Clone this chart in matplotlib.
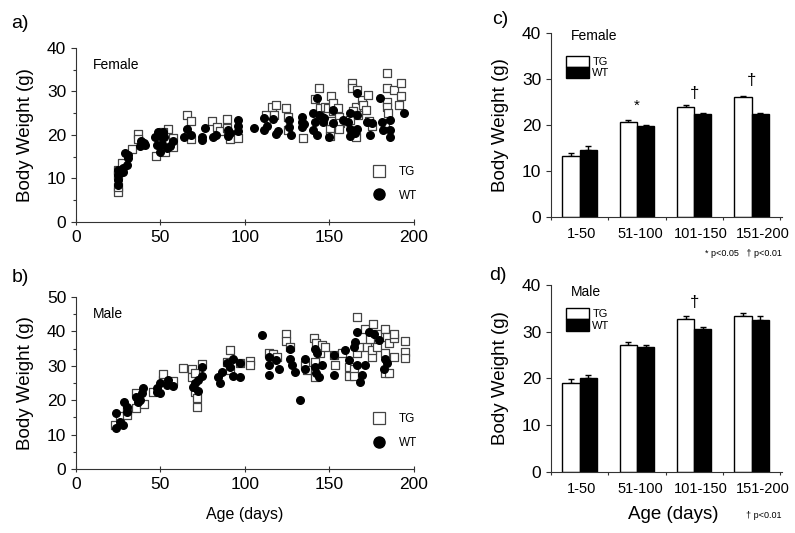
import numpy as np
import matplotlib
matplotlib.use("Agg")
import matplotlib.pyplot as plt
from matplotlib.patches import Patch
from matplotlib.lines import Line2D

plt.rcParams['font.family'] = ['Liberation Sans', 'DejaVu Sans']

### scatter data, female (age in days, weight in g)
f_tg_age = [24.7, 24.7, 24.7, 24.7, 27, 33, 36.9, 36.9, 47.3, 52.7, 54.6, 57.6, 57.6, 51.6, 65.5,
            68, 68, 80.7, 83.2, 85.2, 89.5, 89.5, 91.1, 96, 112.2, 116.2, 118.1, 117.3, 124.6, 125.2,
            125.2, 134.5, 144, 141.4, 144.4, 147.3, 149.3, 150.9, 151.9, 152.3, 155.2, 155.8, 156.2,
            155.8, 150.9, 150.3, 150.3, 163.1, 163.1, 166.1, 165.7, 169, 170, 173, 171.6, 165.7, 162.1,
            164.1, 167, 184.2, 184.2, 184.2, 184.2, 188.2, 192.1, 192.1, 191.3, 184.8, 182.8, 175,
            173.5, 150.7]
f_tg_wt = [7.0, 8.1, 10.8, 11.9, 13.5, 16.7, 20.2, 19.0, 15.2, 16.0, 21.3, 19.4, 17.2, 20.7, 24.6,
           23.2, 19.1, 23.3, 21.8, 20.9, 23.6, 21.6, 19.1, 19.4, 24.6, 26.5, 26.9, 24.6, 26.1, 24.2,
           21.1, 19.4, 30.7, 28.2, 26.1, 26.5, 26.1, 29.0, 27.4, 25.6, 26.3, 24.2, 22.7,
           21.3, 22.3, 21.3, 19.8, 32.0, 30.7, 30.3, 26.5, 28.0, 26.9, 29.3, 25.7, 19.6, 23.4,
           25.4, 24.6, 34.3, 30.7, 27.5, 26.4, 30.3, 32.0, 29.0, 26.9, 25.0, 22.7, 22.1,
           23.2, 23.3]
f_wt_age = [24.7, 24.7, 24.7, 24.7, 25.5, 28, 28, 29, 30.9, 30, 31, 37.9, 38.5, 40.2, 41, 46.7,
            48.7, 48.1, 49.5, 51.7, 51, 52, 53.6, 55.6, 57.6, 50, 65.5, 64, 68, 74.3, 74.3, 76.3,
            80.9, 82.6, 89.7, 89.9, 91, 96, 96, 96, 105.5, 111.4, 111.4, 113, 116.7, 118.1, 119.5,
            126, 126, 127.2, 133.5, 133.5, 134, 135, 142.8, 166.1, 179.9, 194.1, 140.4, 141.4,
            140.4, 142.4, 145.4, 146.3, 149.9, 152.3, 152.3, 158.2, 161.1, 162.1, 162.1, 162.1,
            166.1, 166.1, 165.1, 172, 174, 175, 180.9, 181.8, 185.8, 185.8, 185.8, 144, 147]
f_wt_wt = [8.5, 9.6, 10.8, 12.0, 11.2, 11.6, 12.4, 15.8, 14.6, 13.1, 15.5, 17.5, 18.7, 18.2, 17.8, 19.6,
           20.8, 17.7, 19.8, 20.8, 18.0, 19.5, 16.9, 17.5, 18.6, 16.0, 21.3, 19.5, 20.1, 19.6, 18.9, 21.5,
           19.6, 20.0, 21.1, 19.8, 20.5, 23.4, 22.1, 20.9, 21.5, 23.8, 21.1, 22.0, 23.6, 20.2, 21.0,
           23.4, 21.8, 20.0, 24.2, 21.8, 23.0, 22.5, 28.6, 29.6, 28.4, 25.1, 25.0, 23.0,
           21.1, 20.0, 24.2, 23.0, 19.6, 25.7, 22.7, 23.4, 23.0, 25.1, 21.3, 19.7,
           24.6, 21.3, 20.5, 23.0, 20.0, 22.7, 23.0, 21.1, 23.4, 21.1, 19.6, 24.5, 23.8]

### scatter data, male
m_tg_age = [22.9, 25.9, 29.9, 29.9, 35.8, 35.8, 40.2, 45.7, 51.6, 51.6, 57.2, 63.1, 68.4, 68.4, 70.4,
            70.4, 71.4, 71.4, 74.4, 91.2, 89.2, 91.2, 97.1, 102.7, 102.7, 114.5, 116.9, 118.9, 124.4,
            124.4, 126.8, 135.7, 136.7, 140.6, 142.2, 141.6, 141.6, 144.6, 145.6, 147.6, 152.5, 153.5,
            157.5, 161.4, 161.4, 164.4, 164.4, 166.4, 166.4, 167.4, 171.3, 172.3, 174.3, 175.3, 175.3,
            175.9, 178.3, 178.3, 183.2, 184.2, 185.2, 183.2, 183.2, 185.2, 188.1, 188.1, 188.1, 195,
            195, 195]
m_tg_wt = [12.8, 15.3, 15.7, 17.2, 17.7, 22.0, 18.8, 22.5, 25.9, 27.6, 25.6, 29.5, 29.1, 26.8, 27.8,
           22.5, 20.6, 17.9, 30.5, 34.7, 31.2, 28.8, 30.7, 31.5, 30.2, 33.8, 33.4, 32.6, 39.4,
           37.3, 35.5, 30.2, 28.8, 38.2, 36.5, 31.2, 26.8, 33.6, 36.2, 35.5, 33.1, 30.2,
           33.6, 29.7, 27.0, 29.2, 27.0, 44.2, 33.6, 35.5, 40.8, 35.5, 37.9, 32.6, 34.6,
           42.1, 35.5, 39.4, 40.6, 38.4, 36.5, 33.6, 27.8, 27.8, 32.6, 38.2, 39.4, 37.3,
           34.1, 32.4]
m_wt_age = [23.5, 23.5, 25.9, 27.9, 28.3, 29.9, 29.9, 35.8, 36.8, 38.8, 39.8, 37.8, 47.7, 47.7, 49.7,
            49.7, 53.6, 57.2, 54.6, 69.4, 70.4, 72.4, 72.4, 74.4, 74.4, 84.3, 85.3, 86.2, 89.2, 91.2,
            93.2, 93.2, 97.1, 97.1, 110, 114.5, 114.5, 114.5, 118.1, 120.1, 126.8, 126.8, 127.8,
            129.8, 132.7, 135.7, 135.7, 141.6, 142.6, 141.6, 142.2, 143.6, 145.6, 152.5, 152.5,
            159.5, 161.4, 164.4, 165.4, 166.4, 166.4, 168.3, 169.3, 171.3, 173.3, 176.3, 179.2,
            182.2, 183.2, 184.2]
m_wt_wt = [16.2, 11.9, 13.8, 12.8, 19.6, 18.1, 16.7, 21.0, 19.6, 22.0, 23.7, 20.0, 23.7, 22.5, 24.9,
           22.0, 24.4, 24.1, 25.9, 23.9, 25.1, 25.9, 22.8, 29.7, 27.0, 26.8, 24.9, 28.3, 30.7, 29.7,
           32.1, 27.0, 30.7, 26.8, 38.9, 32.6, 30.2, 27.3, 31.7, 29.2, 35.0, 32.1, 30.2,
           28.3, 20.1, 32.1, 29.2, 35.0, 33.6, 29.7, 27.8, 26.8, 30.2, 33.1, 27.3,
           34.6, 31.7, 35.5, 37.0, 39.9, 30.2, 25.4, 27.3, 30.2, 39.9, 39.4, 37.5,
           29.2, 32.1, 30.7]

### bar data (mean, upper error) by age group
groups = ['1-50', '51-100', '101-150', '151-200']
f_tg_mean = [13.2, 20.7, 23.9, 26.1]
f_tg_err = [0.8, 0.4, 0.45, 0.25]
f_wt_mean = [14.6, 19.8, 22.4, 22.4]
f_wt_err = [0.8, 0.2, 0.25, 0.3]
m_tg_mean = [19.1, 27.2, 32.8, 33.4]
m_tg_err = [0.7, 0.5, 0.55, 0.5]
m_wt_mean = [20.0, 26.7, 30.6, 32.6]
m_wt_err = [0.8, 0.45, 0.5, 0.7]

fig = plt.figure(figsize=(7.95, 5.33), dpi=100)
ax_a = fig.add_axes([0.0956, 0.5835, 0.425, 0.3265])
ax_b = fig.add_axes([0.0956, 0.120, 0.425, 0.3227])
ax_c = fig.add_axes([0.693, 0.5929, 0.2906, 0.345])
ax_d = fig.add_axes([0.693, 0.1144, 0.2906, 0.351])

def style_axes(ax):
    ax.spines['top'].set_visible(False)
    ax.spines['right'].set_visible(False)
    ax.spines['left'].set_color('#333333')
    ax.spines['bottom'].set_color('#333333')
    ax.tick_params(labelsize=12.5, color='#333333', length=3.5, width=0.8)
    ax.tick_params(which='minor', color='#333333', length=2.5, width=0.8)

def scatter_panel(ax, tg_x, tg_y, wt_x, wt_y, ymax, sex):
    ax.scatter(tg_x, tg_y, marker='s', s=26, facecolor='white', edgecolor='#444444',
               linewidths=0.9, zorder=2)
    ax.scatter(wt_x, wt_y, marker='o', s=30, color='black', zorder=3)
    ax.set_xlim(0, 200)
    ax.set_ylim(0, ymax)
    ax.set_xticks([0, 50, 100, 150, 200])
    ax.set_yticks(np.arange(0, ymax + 1, 10))
    ax.set_yticks(np.arange(0, ymax + 1, 5), minor=True)
    style_axes(ax)
    ax.tick_params(axis='x', direction='inout', length=5)
    ax.set_ylabel('Body Weight (g)', fontsize=13.5)
    ax.yaxis.set_label_coords(-0.125, 0.5)
    ax.text(0.05, 0.90, sex, transform=ax.transAxes, fontsize=10, va='center')
    handles = [Line2D([], [], marker='s', ls='none', mfc='white', mec='#444444', ms=8.5, mew=0.9),
               Line2D([], [], marker='o', ls='none', color='black', ms=8)]
    ax.legend(handles, ['TG', 'WT'], loc='center left', bbox_to_anchor=(0.83, 0.22),
              frameon=False, fontsize=8.5, handletextpad=0.7, labelspacing=1.0)

scatter_panel(ax_a, f_tg_age, f_tg_wt, f_wt_age, f_wt_wt, 40, 'Female')
scatter_panel(ax_b, m_tg_age, m_tg_wt, m_wt_age, m_wt_wt, 50, 'Male')
ax_b.set_xlabel('Age (days)', fontsize=11.5)
ax_b.xaxis.set_label_coords(0.5, -0.22)

def bar_panel(ax, tg_m, tg_e, wt_m, wt_e, sex, sex_y):
    x = np.arange(len(groups))
    w = 0.3
    ax.bar(x - w / 2, tg_m, w, color='white', edgecolor='black', linewidth=1, zorder=2)
    ax.bar(x + w / 2, wt_m, w, color='black', edgecolor='black', linewidth=1, zorder=2)
    ax.errorbar(x - w / 2, tg_m, yerr=[np.zeros(len(x)), tg_e], fmt='none', ecolor='black',
                elinewidth=1, capsize=2, zorder=1)
    ax.errorbar(x + w / 2, wt_m, yerr=[np.zeros(len(x)), wt_e], fmt='none', ecolor='black',
                elinewidth=1, capsize=2, zorder=1)
    ax.set_xlim(-0.49, 3.53)
    ax.set_ylim(0, 40)
    ax.set_yticks([0, 10, 20, 30, 40])
    ax.set_xticks(x + np.array([0.04, 0.06, 0.11, 0.19]))
    ax.set_xticklabels(groups)
    ax.set_xticks(np.arange(-0.5, len(groups), 1.0), minor=True)
    style_axes(ax)
    ax.tick_params(axis='x', which='major', length=0, pad=7, labelsize=10.5)
    ax.tick_params(axis='x', which='minor', length=2)
    ax.set_ylabel('Body Weight (g)', fontsize=13.5)
    ax.yaxis.set_label_coords(-0.18, 0.5)
    ax.text(0.085, sex_y, sex, transform=ax.transAxes, fontsize=10, va='center')
    handles = [Patch(facecolor='white', edgecolor='black'),
               Patch(facecolor='black', edgecolor='black')]
    ax.legend(handles, ['TG', 'WT'], loc='upper left', bbox_to_anchor=(0.03, 0.92),
              frameon=False, fontsize=8, handlelength=2.1, handleheight=1.2,
              labelspacing=0.0, handletextpad=0.3, borderpad=0.2)

bar_panel(ax_c, f_tg_mean, f_tg_err, f_wt_mean, f_wt_err, 'Female', 0.985)
bar_panel(ax_d, m_tg_mean, m_tg_err, m_wt_mean, m_wt_err, 'Male', 0.96)

### significance marks
ax_c.text(1, 24.2, '*', ha='center', va='center', fontsize=11)
ax_c.text(2, 26.8, '\u2020', ha='center', va='center', fontsize=12)
ax_c.text(3, 29.6, '\u2020', ha='center', va='center', fontsize=12)
ax_d.text(2, 36.3, '\u2020', ha='center', va='center', fontsize=12)
ax_c.text(1.0, -0.20, '* p<0.05   \u2020 p<0.01', transform=ax_c.transAxes,
          ha='right', va='center', fontsize=6.5)
ax_d.text(1.0, -0.23, '\u2020 p<0.01', transform=ax_d.transAxes,
          ha='right', va='center', fontsize=6.5)
ax_d.set_xlabel('Age (days)', fontsize=13.5)
ax_d.xaxis.set_label_coords(0.53, -0.18)

### panel letters
for lbl, (px, py) in zip(['a)', 'b)', 'c)', 'd)'], [(20, 23), (20, 277), (500, 20), (498, 275)]):
    fig.text(px / 795.0, 1 - py / 533.0, lbl, fontsize=14, ha='center', va='center')

fig.savefig('out.png', dpi=100)
